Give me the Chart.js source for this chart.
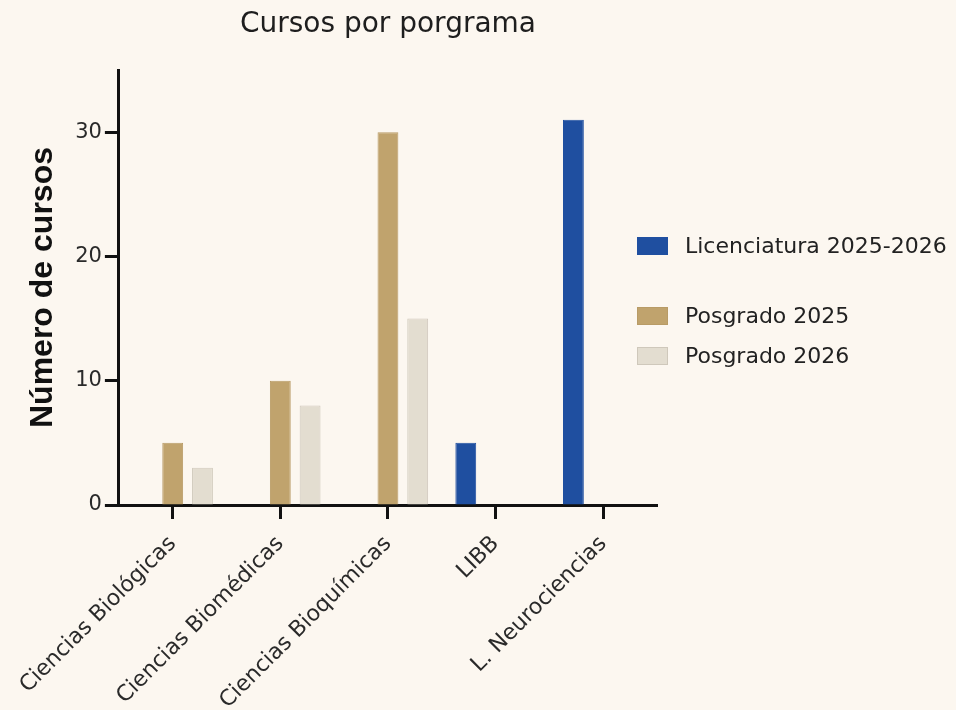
<!DOCTYPE html>
<html>
<head>
<meta charset="utf-8">
<script src="https://cdn.jsdelivr.net/npm/chart.js@4/dist/chart.umd.min.js"></script>
<style>
  html, body { margin: 0; padding: 0; background: #fcf7f0; }
  #wrap { position: relative; width: 956px; height: 710px; }
  #c { position: absolute; left: 0; top: 0; }
  .leg { position: absolute; left: 637px; font-family: "DejaVu Sans", Verdana, sans-serif; font-size: 22px; color: #222; display: flex; align-items: center; white-space: nowrap; }
  .sw { width: 31px; height: 18px; margin-right: 17px; box-sizing: border-box; }
</style>
</head>
<body>
<div id="wrap">
  <canvas id="c" width="956" height="710"></canvas>
  <div id="legend"></div>
</div>
<script>
const categories = ["Ciencias Biológicas", "Ciencias Biomédicas", "Ciencias Bioquímicas", "LIBB", "L. Neurociencias"];
const licenciatura = [null, null, null, 5, 31];
const posgrado2025 = [5, 10, 30, null, null];
const posgrado2026 = [3, 8, 15, null, null];
const seriesNames = ["Licenciatura 2025-2026", "Posgrado 2025", "Posgrado 2026"];
const yTicks = [0, 10, 20, 30];

const colors = ["#1f4fa0", "#c0a36d", "#e3ddd0"];
const borders = ["#1f4fa0", "#b89b66", "#cfc8bb"];

const legendTops = [247, 317, 357];
const legendEl = document.getElementById('legend');
seriesNames.forEach((n, i) => {
  const d = document.createElement('div');
  d.className = 'leg';
  d.style.top = (legendTops[i] - 14) + 'px';
  d.innerHTML = '<span class="sw" style="background:' + colors[i] + ';border:1px solid ' + borders[i] + '"></span><span>' + n + '</span>';
  legendEl.appendChild(d);
});

const datasets = [licenciatura, posgrado2025, posgrado2026].map((vals, i) => ({
  label: seriesNames[i],
  data: vals,
  backgroundColor: colors[i],
  borderColor: borders[i],
  borderWidth: 1,
  categoryPercentage: 0.83,
  barPercentage: 0.7
}));

new Chart(document.getElementById('c'), {
  type: 'bar',
  data: { labels: categories, datasets },
  options: {
    responsive: false,
    animation: false,
    layout: { padding: { left: 0, right: 299, top: 0, bottom: 0 } },
    plugins: {
      legend: { display: false },
      tooltip: { enabled: false },
      title: {
        display: true,
        text: 'Cursos por porgrama',
        fullSize: false,
        color: '#1e1e1e',
        font: { family: 'DejaVu Sans', size: 28, weight: 'normal' },
        padding: { top: 8, bottom: 28.4 }
      }
    },
    scales: {
      x: {
        offset: true,
        afterFit: s => { s.height = 205; },
        grid: { display: true, drawOnChartArea: false, offset: false, drawTicks: true, tickLength: 14, tickWidth: 3, tickColor: '#111', color: '#111' },
        border: { display: true, color: '#111', width: 3 },
        ticks: {
          color: '#2a2a2a',
          font: { family: 'DejaVu Sans', size: 22 },
          minRotation: 45, maxRotation: 45,
          padding: 12,
          autoSkip: false
        }
      },
      y: {
        min: 0, max: 35,
        afterFit: s => { s.width = 117; },
        afterBuildTicks: s => { s.ticks = yTicks.map(v => ({ value: v })); },
        grid: { display: true, drawOnChartArea: false, drawTicks: true, tickLength: 14, tickWidth: 3, tickColor: '#111', color: '#111' },
        border: { display: true, color: '#111', width: 3 },
        ticks: {
          color: '#2a2a2a',
          font: { family: 'DejaVu Sans', size: 21 },
          padding: 3
        },
        title: {
          display: true,
          text: 'Número de cursos',
          color: '#111',
          font: { family: 'Liberation Sans', size: 32, weight: 'bold' },
          padding: { top: 22, bottom: 0 }
        }
      }
    }
  }
});
</script>
</body>
</html>
